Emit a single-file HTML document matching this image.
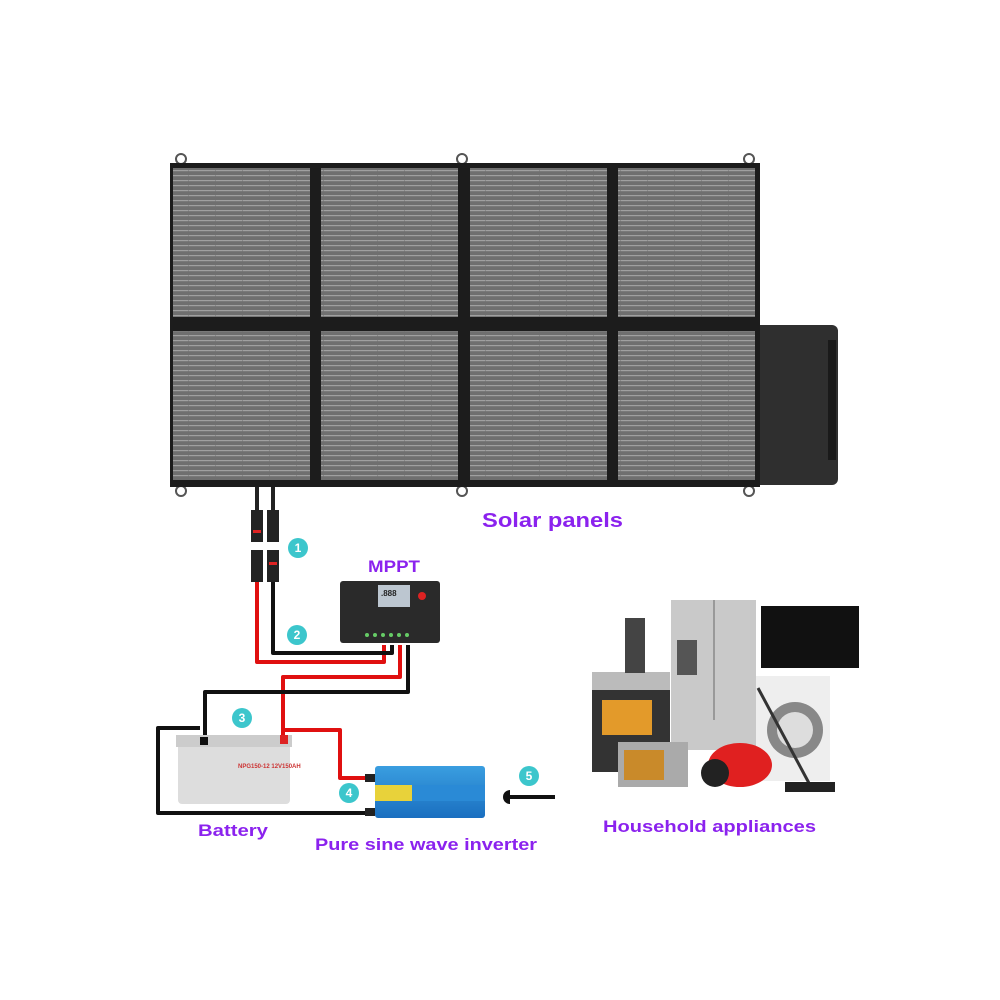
<!DOCTYPE html>
<html><head><meta charset="utf-8"><style>
html,body{margin:0;padding:0;background:#fff;width:1000px;height:1000px;overflow:hidden}
text{font-family:"Liberation Sans",sans-serif;font-weight:bold}
</style></head><body>
<svg width="1000" height="1000" viewBox="0 0 1000 1000" xmlns="http://www.w3.org/2000/svg">
<defs>
<pattern id="cell" width="27" height="5" patternUnits="userSpaceOnUse">
<rect width="27" height="5" fill="#6f6f6f"/>
<rect y="0" width="26.5" height="1.2" fill="#a0a0a0"/>
</pattern>
<linearGradient id="inv" x1="0" y1="0" x2="0" y2="1"><stop offset="0" stop-color="#3a9ee0"/><stop offset="1" stop-color="#1a6fc0"/></linearGradient>
</defs>
<g fill="none" stroke="#555" stroke-width="2">
<circle cx="181" cy="159" r="5"/><circle cx="462" cy="159" r="5"/><circle cx="749" cy="159" r="5"/>
<circle cx="181" cy="491" r="5"/><circle cx="462" cy="491" r="5"/><circle cx="749" cy="491" r="5"/>
</g>
<rect x="752" y="325" width="86" height="160" rx="6" fill="#2f2f2f"/>
<rect x="828" y="340" width="8" height="120" fill="#1a1a1a"/>
<rect x="170" y="163" width="590" height="324" fill="#1c1c1c"/>
<g fill="url(#cell)">
<rect x="173" y="168" width="137" height="149"/><rect x="321" y="168" width="137" height="149"/>
<rect x="470" y="168" width="137" height="149"/><rect x="618" y="168" width="137" height="149"/>
<rect x="173" y="331" width="137" height="149"/><rect x="321" y="331" width="137" height="149"/>
<rect x="470" y="331" width="137" height="149"/><rect x="618" y="331" width="137" height="149"/>
</g>
<g fill="#222">
<rect x="255" y="487" width="4" height="25"/><rect x="271" y="487" width="4" height="25"/>
<rect x="251" y="510" width="12" height="32"/><rect x="267" y="510" width="12" height="32"/>
<rect x="251" y="550" width="12" height="32"/><rect x="267" y="550" width="12" height="32"/>
</g>
<rect x="253" y="530" width="8" height="3" fill="#d22"/><rect x="269" y="562" width="8" height="3" fill="#d22"/>
<g fill="none" stroke-width="4" stroke-linejoin="round">
<path d="M257 582 V662 H384 V645" stroke="#e01010"/>
<path d="M273 582 V653 H392 V645" stroke="#111"/>
<path d="M400 645 V677 H283 V735" stroke="#e01010"/>
<path d="M408 645 V692 H205 V735" stroke="#111"/>
<path d="M200 728 H158 V813 H372" stroke="#111"/>
<path d="M285 730 H340 V778 H372" stroke="#e01010"/>
<path d="M510 797 H555" stroke="#111"/>
</g>
<rect x="340" y="581" width="100" height="62" rx="3" fill="#2a2a2a"/>
<rect x="378" y="585" width="32" height="22" fill="#bcc6d0"/>
<text x="381" y="596" font-size="8" fill="#222">.888</text>
<circle cx="422" cy="596" r="4" fill="#d22"/>
<g fill="#6c6"><circle cx="367" cy="635" r="2"/><circle cx="375" cy="635" r="2"/><circle cx="383" cy="635" r="2"/><circle cx="391" cy="635" r="2"/><circle cx="399" cy="635" r="2"/><circle cx="407" cy="635" r="2"/></g>
<rect x="178" y="742" width="112" height="62" rx="4" fill="#ddd"/>
<rect x="176" y="735" width="116" height="12" fill="#ccc"/>
<rect x="200" y="737" width="8" height="8" fill="#111"/><rect x="280" y="735" width="8" height="9" fill="#d22"/>
<text x="238" y="768" font-size="6" fill="#c33">NPG150-12 12V150AH</text>
<rect x="375" y="766" width="110" height="52" rx="3" fill="url(#inv)"/>
<rect x="375" y="785" width="110" height="16" fill="#e8d23a"/>
<rect x="412" y="785" width="73" height="16" fill="#2a8ad6"/>
<rect x="365" y="774" width="10" height="8" fill="#222"/><rect x="365" y="808" width="10" height="8" fill="#222"/>
<path d="M510 790 a7 7 0 0 0 0 14 z" fill="#111"/>
<rect x="671" y="600" width="85" height="150" fill="#c9c9c9"/>
<rect x="713" y="600" width="2" height="120" fill="#999"/>
<rect x="677" y="640" width="20" height="35" fill="#555"/>
<rect x="592" y="672" width="78" height="100" fill="#333"/>
<rect x="592" y="672" width="78" height="18" fill="#bbb"/>
<rect x="602" y="700" width="50" height="35" fill="#e39a2a"/>
<rect x="625" y="618" width="20" height="55" fill="#444"/>
<rect x="761" y="606" width="98" height="62" fill="#111"/>
<rect x="756" y="676" width="74" height="105" fill="#eee"/>
<circle cx="795" cy="730" r="28" fill="#888"/><circle cx="795" cy="730" r="18" fill="#ddd"/>
<rect x="618" y="742" width="70" height="45" fill="#aaa"/>
<rect x="624" y="750" width="40" height="30" fill="#c98a2a"/>
<ellipse cx="740" cy="765" rx="32" ry="22" fill="#e02020"/>
<circle cx="715" cy="773" r="14" fill="#222"/>
<path d="M758 688 L810 785" stroke="#333" stroke-width="3"/>
<rect x="785" y="782" width="50" height="10" fill="#222"/>
<g fill="#3cc6cc"><circle cx="298" cy="548" r="10"/><circle cx="297" cy="635" r="10"/><circle cx="242" cy="718" r="10"/><circle cx="349" cy="793" r="10"/><circle cx="529" cy="776" r="10"/></g>
<g fill="#fff" font-size="12" text-anchor="middle">
<text x="298" y="552">1</text><text x="297" y="639">2</text><text x="242" y="722">3</text><text x="349" y="797">4</text><text x="529" y="780">5</text></g>
<g fill="#8b22ee">
<text x="482" y="527" font-size="20" textLength="141" lengthAdjust="spacingAndGlyphs">Solar panels</text>
<text x="368" y="572" font-size="17" textLength="52" lengthAdjust="spacingAndGlyphs">MPPT</text>
<text x="198" y="836" font-size="17" textLength="70" lengthAdjust="spacingAndGlyphs">Battery</text>
<text x="315" y="850" font-size="17" textLength="222" lengthAdjust="spacingAndGlyphs">Pure sine wave  inverter</text>
<text x="603" y="832" font-size="17" textLength="213" lengthAdjust="spacingAndGlyphs">Household appliances</text>
</g>
</svg>
</body></html>
